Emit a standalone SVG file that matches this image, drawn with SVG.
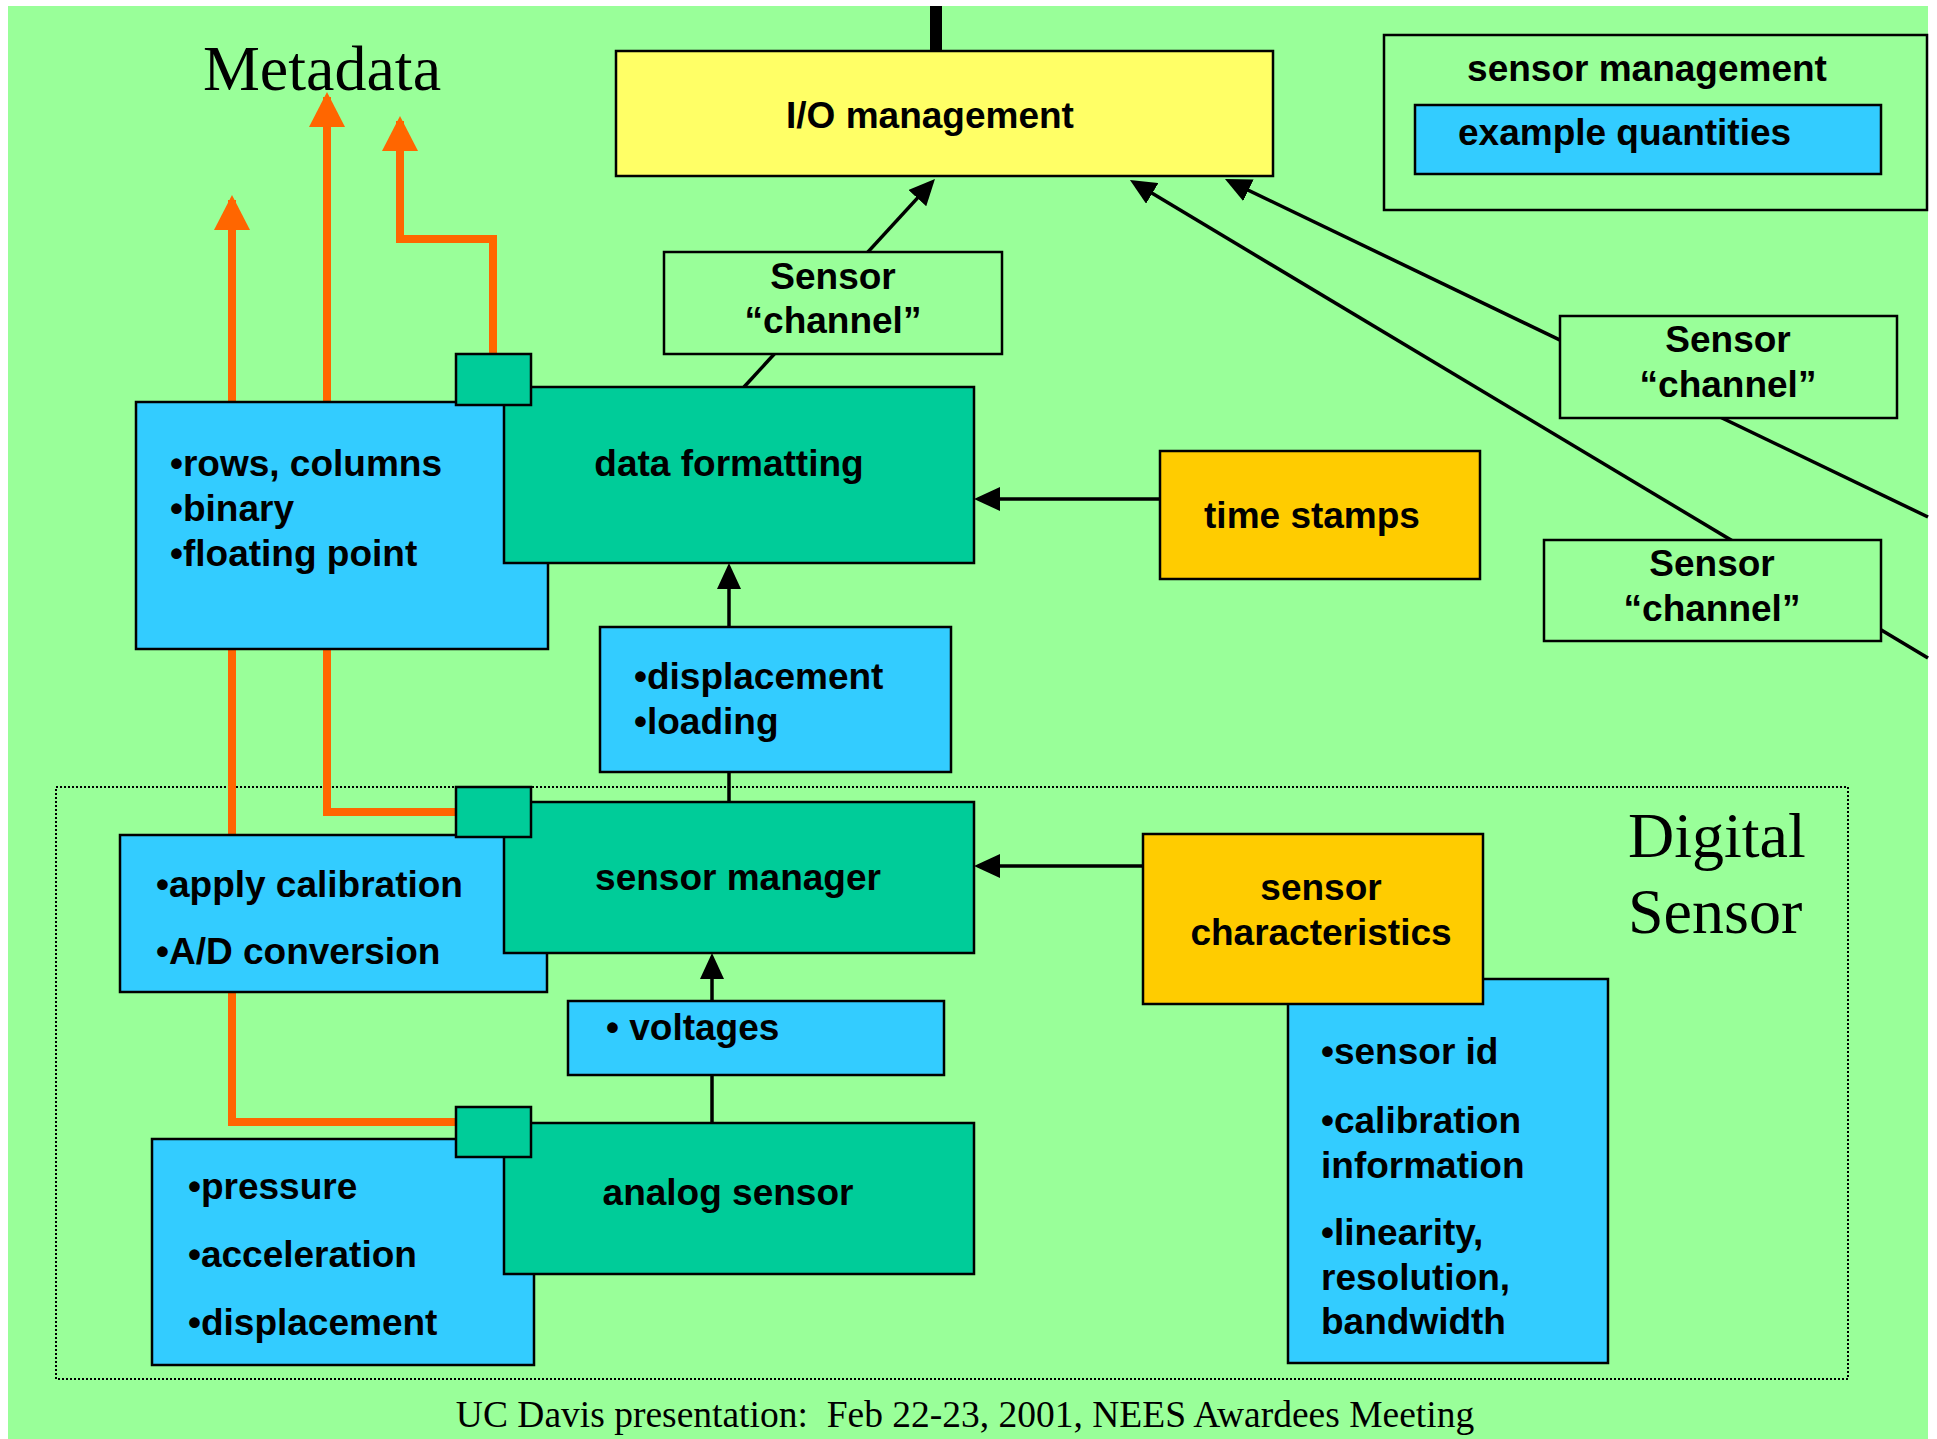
<svg xmlns="http://www.w3.org/2000/svg" width="1937" height="1439" viewBox="0 0 1937 1439">
  <style>
    .box { stroke: #000; stroke-width: 2.5; }
    .plain { fill: #99FF99; }
    .io { fill: #FFFF66; }
    .proc { fill: #00CC99; }
    .info { fill: #33CCFF; }
    .gold { fill: #FFCC00; }
    .lbl { font-family: "Liberation Sans", Arial, sans-serif; font-weight: bold; font-size: 37px; fill: #000; }
    .mid { text-anchor: middle; }
    .serif { font-family: "Liberation Serif", "Times New Roman", serif; fill: #000; }
    .wire { stroke: #000; stroke-width: 3.5; fill: none; }
    .meta { stroke: #FF6600; stroke-width: 8; fill: none; }
  </style>
  <defs>
    <marker id="arrow" markerUnits="userSpaceOnUse" markerWidth="26" markerHeight="24" refX="20" refY="12" orient="auto">
      <path d="M0,0 L26,12 L0,24 z" fill="#000"/>
    </marker>
    <marker id="arrowMeta" markerUnits="userSpaceOnUse" markerWidth="35" markerHeight="36" refX="30" refY="18" orient="auto">
      <path d="M0,0 L35,18 L0,36 z" fill="#FF6600"/>
    </marker>
  </defs>

  <!-- slide background -->
  <rect x="0" y="0" width="1937" height="1439" fill="#FFFFFF"/>
  <rect x="8" y="6" width="1920" height="1433" fill="#99FF99"/>

  <!-- Digital Sensor boundary -->
  <g id="digital-sensor">
    <rect x="56" y="787" width="1792" height="592" fill="none" stroke="#000" stroke-width="2" stroke-dasharray="2,2"/>
    <text class="serif" x="1628" y="857" font-size="64">Digital</text>
    <text class="serif" x="1628" y="933" font-size="64">Sensor</text>
  </g>

  <text id="metadata-title" class="serif mid" x="322" y="90" font-size="64">Metadata</text>

  <g id="connectors">
    <!-- metadata flows -->
    <path class="meta" d="M456,1122 H232 V200" marker-end="url(#arrowMeta)"/>
    <path class="meta" d="M456,812 H327 V97" marker-end="url(#arrowMeta)"/>
    <path class="meta" d="M493,354 V239 H400 V121" marker-end="url(#arrowMeta)"/>
    <!-- uplink above I/O management -->
    <line x1="936" y1="6" x2="936" y2="51" stroke="#000" stroke-width="12"/>
    <!-- channels into I/O management -->
    <line class="wire" x1="744" y1="387" x2="930.9" y2="183.4" marker-end="url(#arrow)"/>
    <line class="wire" x1="1928" y1="517" x2="1230.4" y2="181.6" marker-end="url(#arrow)"/>
    <line class="wire" x1="1928" y1="658" x2="1135.1" y2="183.1" marker-end="url(#arrow)"/>
    <!-- processing chain -->
    <line class="wire" x1="1160" y1="499" x2="980" y2="499" marker-end="url(#arrow)"/>
    <line class="wire" x1="729" y1="627" x2="729" y2="569" marker-end="url(#arrow)"/>
    <line class="wire" x1="729" y1="772" x2="729" y2="802"/>
    <line class="wire" x1="1143" y1="866" x2="980" y2="866" marker-end="url(#arrow)"/>
    <line class="wire" x1="712" y1="1001" x2="712" y2="959" marker-end="url(#arrow)"/>
    <line class="wire" x1="712" y1="1075" x2="712" y2="1123"/>
  </g>

  <g id="io-management">
    <rect class="box io" x="616" y="51" width="657" height="125"/>
    <text class="lbl mid" x="930" y="128">I/O management</text>
  </g>

  <g id="legend">
    <rect class="box plain" x="1384" y="35" width="543" height="175"/>
    <text class="lbl mid" x="1647" y="81">sensor management</text>
    <rect class="box info" x="1415" y="105" width="466" height="69"/>
    <text class="lbl" x="1458" y="145">example quantities</text>
  </g>

  <g id="channel-1">
    <rect class="box plain" x="664" y="252" width="338" height="102"/>
    <text class="lbl mid" x="833" y="289">Sensor</text>
    <text class="lbl mid" x="833" y="333">“channel”</text>
  </g>

  <g id="channel-2">
    <rect class="box plain" x="1560" y="316" width="337" height="102"/>
    <text class="lbl mid" x="1728" y="352">Sensor</text>
    <text class="lbl mid" x="1728" y="397">“channel”</text>
  </g>

  <g id="channel-3">
    <rect class="box plain" x="1544" y="540" width="337" height="101"/>
    <text class="lbl mid" x="1712" y="576">Sensor</text>
    <text class="lbl mid" x="1712" y="621">“channel”</text>
  </g>

  <g id="format-options">
    <rect class="box info" x="136" y="402" width="412" height="247"/>
    <text class="lbl" x="170" y="476">•rows, columns</text>
    <text class="lbl" x="170" y="521">•binary</text>
    <text class="lbl" x="170" y="566">•floating point</text>
  </g>

  <g id="data-formatting">
    <rect class="box proc" x="504" y="387" width="470" height="176"/>
    <text class="lbl mid" x="729" y="476">data formatting</text>
    <rect class="box proc" x="456" y="354" width="75" height="51"/>
  </g>

  <g id="time-stamps">
    <rect class="box gold" x="1160" y="451" width="320" height="128"/>
    <text class="lbl mid" x="1312" y="528">time stamps</text>
  </g>

  <g id="engineering-units">
    <rect class="box info" x="600" y="627" width="351" height="145"/>
    <text class="lbl" x="634" y="689">•displacement</text>
    <text class="lbl" x="634" y="734">•loading</text>
  </g>

  <g id="conditioning">
    <rect class="box info" x="120" y="835" width="427" height="157"/>
    <text class="lbl" x="156" y="897">•apply calibration</text>
    <text class="lbl" x="156" y="964">•A/D conversion</text>
  </g>

  <g id="sensor-manager">
    <rect class="box proc" x="504" y="802" width="470" height="151"/>
    <text class="lbl mid" x="738" y="890">sensor manager</text>
    <rect class="box proc" x="456" y="787" width="75" height="50"/>
  </g>

  <g id="voltages">
    <rect class="box info" x="568" y="1001" width="376" height="74"/>
    <text class="lbl" x="606" y="1040" xml:space="preserve">• voltages</text>
  </g>

  <g id="measurands">
    <rect class="box info" x="152" y="1139" width="382" height="226"/>
    <text class="lbl" x="188" y="1199">•pressure</text>
    <text class="lbl" x="188" y="1267">•acceleration</text>
    <text class="lbl" x="188" y="1335">•displacement</text>
  </g>

  <g id="analog-sensor">
    <rect class="box proc" x="504" y="1123" width="470" height="151"/>
    <text class="lbl mid" x="728" y="1205">analog sensor</text>
    <rect class="box proc" x="456" y="1107" width="75" height="50"/>
  </g>

  <g id="characteristic-list">
    <rect class="box info" x="1288" y="979" width="320" height="384"/>
    <text class="lbl" x="1321" y="1064">•sensor id</text>
    <text class="lbl" x="1321" y="1133">•calibration</text>
    <text class="lbl" x="1321" y="1178">information</text>
    <text class="lbl" x="1321" y="1245">•linearity,</text>
    <text class="lbl" x="1321" y="1290">resolution,</text>
    <text class="lbl" x="1321" y="1334">bandwidth</text>
  </g>

  <g id="sensor-characteristics">
    <rect class="box gold" x="1143" y="834" width="340" height="170"/>
    <text class="lbl mid" x="1321" y="900">sensor</text>
    <text class="lbl mid" x="1321" y="945">characteristics</text>
  </g>

  <text id="footer" class="serif mid" x="965" y="1427" font-size="37.5" xml:space="preserve">UC Davis presentation:  Feb 22-23, 2001, NEES Awardees Meeting</text>
</svg>
